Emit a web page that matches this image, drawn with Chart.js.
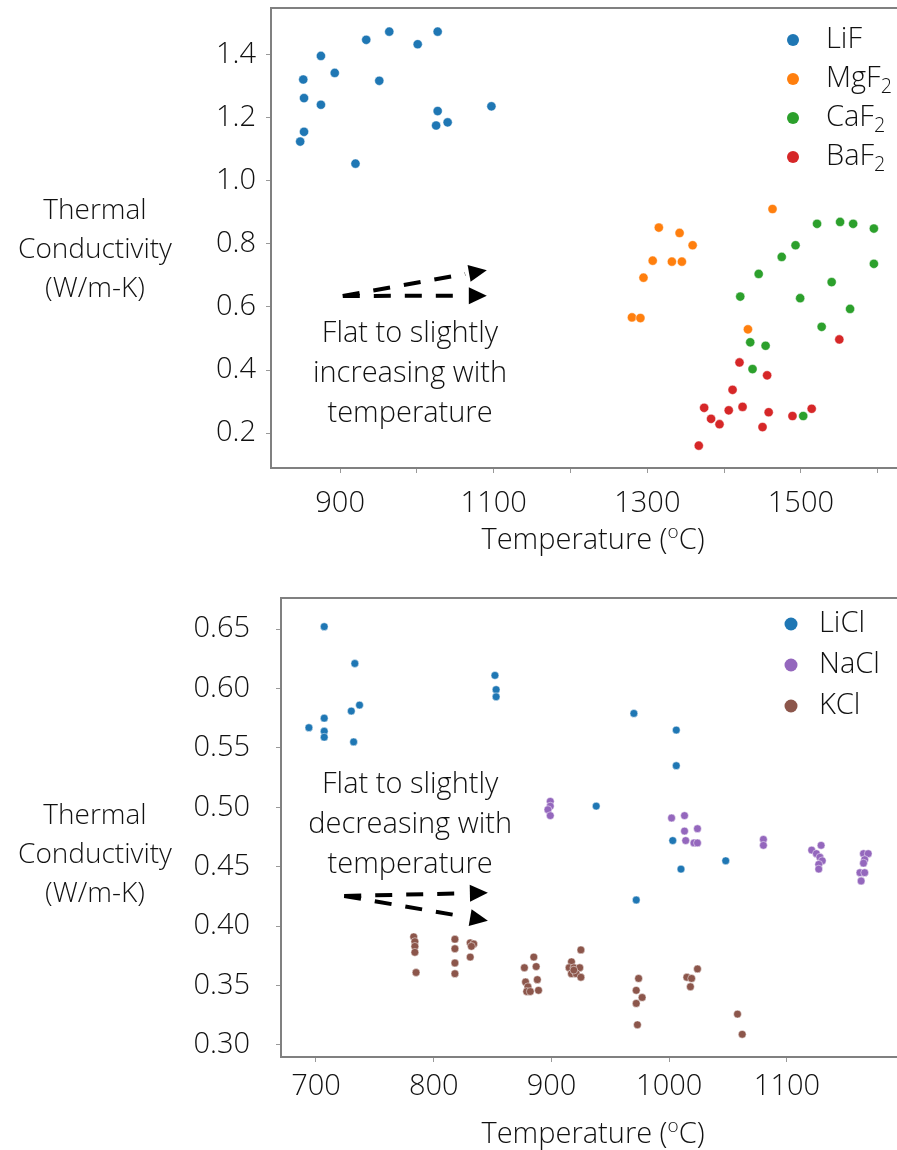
<!DOCTYPE html>
<html>
<head>
<meta charset="utf-8">
<script src="https://cdn.jsdelivr.net/npm/chart.js@4.4.0/dist/chart.umd.min.js"></script>
<style>
html, body { margin: 0; padding: 0; background: #fff; overflow: hidden; }
.caja { position: absolute; left: 0; width: 910px; height: 575px; }
</style>
</head>
<body>
<div class="caja" style="top:0"><canvas id="fluoruros"></canvas></div>
<div class="caja" style="top:575px"><canvas id="cloruros"></canvas></div>
<script>
// --- datos: grafico de fluoruros ---
const lifT = [848, 853, 852, 853, 875, 875, 893, 920, 934, 951, 964, 1001, 1027, 1027, 1025, 1040, 1097];
const lifK = [1.125, 1.156, 1.322, 1.263, 1.397, 1.242, 1.343, 1.055, 1.448, 1.318, 1.474, 1.434, 1.474, 1.222, 1.176, 1.186, 1.237];
const mgfT = [1463, 1315, 1342, 1359, 1307, 1332, 1345, 1295, 1280, 1291, 1431];
const mgfK = [0.911, 0.852, 0.835, 0.796, 0.747, 0.744, 0.744, 0.693, 0.567, 0.565, 0.529];
const cafT = [1521, 1551, 1568, 1595, 1493, 1475, 1595, 1445, 1540, 1421, 1499, 1564, 1527, 1434, 1454, 1437, 1503];
const cafK = [0.864, 0.870, 0.864, 0.849, 0.796, 0.759, 0.737, 0.705, 0.679, 0.633, 0.628, 0.594, 0.537, 0.488, 0.477, 0.403, 0.254];
const bafT = [1550, 1420, 1456, 1411, 1374, 1406, 1424, 1458, 1383, 1394, 1489, 1514, 1450, 1367];
const bafK = [0.497, 0.424, 0.383, 0.337, 0.280, 0.272, 0.283, 0.266, 0.245, 0.228, 0.254, 0.277, 0.219, 0.160];

const fluorurosNombres = ['LiF', 'MgF2', 'CaF2', 'BaF2'];
const fluorurosXTicks = [900, 1000, 1100, 1200, 1300, 1400, 1500, 1600];
const fluorurosXEtiquetas = [900, 1100, 1300, 1500];
const fluorurosYTicks = [0.2, 0.4, 0.6, 0.8, 1.0, 1.2, 1.4];
const fluorurosNota = ['Flat to slightly', 'increasing with', 'temperature'];

// --- datos: grafico de cloruros ---
const liclT = [707, 733, 852, 853, 853, 737, 730, 707, 694, 707, 707, 732, 970, 938, 1006, 1006, 1003, 1010, 1048, 972];
const liclK = [0.652, 0.621, 0.611, 0.599, 0.593, 0.586, 0.581, 0.575, 0.567, 0.564, 0.559, 0.555, 0.579, 0.501, 0.565, 0.535, 0.472, 0.448, 0.455, 0.422];
const naclT = [899, 899, 897, 899, 1002, 1013, 1024, 1013, 1014, 1021, 1024, 1080, 1080, 1121, 1129, 1125, 1128, 1130, 1127, 1127, 1165, 1169, 1166, 1165, 1162, 1166, 1163];
const naclK = [0.505, 0.501, 0.498, 0.493, 0.491, 0.493, 0.482, 0.480, 0.472, 0.470, 0.470, 0.473, 0.468, 0.464, 0.468, 0.461, 0.458, 0.455, 0.452, 0.448, 0.461, 0.461, 0.456, 0.453, 0.445, 0.445, 0.438];
const kclT = [783, 784, 784, 784, 785, 818, 818, 818, 818, 831, 834, 832, 831, 885, 877, 887, 878, 880, 888, 879, 882, 889, 925, 917, 915, 919, 924, 917, 921, 925, 919, 974, 972, 977, 972, 973, 1024, 1015, 1019, 1018, 1058, 1062];
const kclK = [0.391, 0.387, 0.383, 0.378, 0.361, 0.389, 0.381, 0.369, 0.360, 0.386, 0.385, 0.383, 0.374, 0.374, 0.365, 0.366, 0.353, 0.349, 0.355, 0.345, 0.345, 0.346, 0.380, 0.370, 0.365, 0.365, 0.365, 0.360, 0.360, 0.357, 0.363, 0.356, 0.346, 0.340, 0.335, 0.317, 0.364, 0.357, 0.356, 0.349, 0.326, 0.309];

const clorurosNombres = ['LiCl', 'NaCl', 'KCl'];
const clorurosXTicks = [700, 800, 900, 1000, 1100];
const clorurosYTicks = [0.30, 0.35, 0.40, 0.45, 0.50, 0.55, 0.60, 0.65];
const clorurosNota = ['Flat to slightly', 'decreasing with', 'temperature'];

const tituloY = ['Thermal', 'Conductivity', '(W/m-K)'];
const colores = ['#1f77b4', '#ff7f0e', '#2ca02c', '#d62728', '#9467bd', '#8c564b'];
const FUENTE = 'Open Sans';
const TAM = 29;
const TEXTO = '#111111';
const EJE = '#808080';

function puntos(t, k){
    return t.map((x, i) => ({ x: x, y: k[i] }));
}

// texto con los digitos como subindice (MgF2 -> MgF₂)
function textoQuimico(ctx, texto, x, y, size){
    const partes = texto.match(/\d+|\D+/g);
    partes.forEach(p => {
        if(/\d/.test(p)){
            ctx.font = `300 ${size * 0.68}px "${FUENTE}"`;
            ctx.fillText(p, x, y + size * 0.3);
        }else{
            ctx.font = `300 ${size}px "${FUENTE}"`;
            ctx.fillText(p, x, y);
        }
        x += ctx.measureText(p).width;
    });
}

function flecha(ctx, x0, y0, x1, y1){
    const ang = Math.atan2(y1 - y0, x1 - x0);
    const largo = 18, ancho = 8.5;
    const bx = x1 - largo * Math.cos(ang), by = y1 - largo * Math.sin(ang);
    ctx.setLineDash([17, 14]);
    ctx.lineWidth = 4;
    ctx.beginPath();
    ctx.moveTo(x0, y0);
    ctx.lineTo(bx - 4 * Math.cos(ang), by - 4 * Math.sin(ang));
    ctx.stroke();
    ctx.setLineDash([]);
    ctx.beginPath();
    ctx.moveTo(x1, y1);
    ctx.lineTo(bx - ancho * Math.sin(ang), by + ancho * Math.cos(ang));
    ctx.lineTo(bx + ancho * Math.sin(ang), by - ancho * Math.cos(ang));
    ctx.closePath();
    ctx.fill();
}

const adornos = {
    id: 'adornos',
    afterDraw(chart, args, o){
        const ctx = chart.ctx, a = chart.chartArea;
        const sx = chart.scales.x, sy = chart.scales.y;
        ctx.save();
        // borde superior
        ctx.strokeStyle = EJE;
        ctx.lineWidth = 2;
        ctx.beginPath();
        ctx.moveTo(a.left - 1, a.top);
        ctx.lineTo(a.right + 20, a.top);
        ctx.stroke();

        ctx.fillStyle = TEXTO;
        ctx.textBaseline = 'middle';
        ctx.textAlign = 'center';
        ctx.font = `300 28px "${FUENTE}"`;
        tituloY.forEach((t, i) => ctx.fillText(t, o.tituloYX, o.tituloYY + i * 39));

        // titulo x con la o en superindice
        ctx.textAlign = 'left';
        const p1 = 'Temperature (', p3 = 'C)';
        ctx.font = `300 ${TAM}px "${FUENTE}"`;
        const w1 = ctx.measureText(p1).width, w3 = ctx.measureText(p3).width;
        ctx.font = `300 19px "${FUENTE}"`;
        const w2 = ctx.measureText('o').width;
        let x = o.tituloXX - (w1 + w2 + w3) / 2;
        ctx.font = `300 ${TAM}px "${FUENTE}"`;
        ctx.fillText(p1, x, o.tituloXY);
        ctx.font = `300 19px "${FUENTE}"`;
        ctx.fillText('o', x + w1, o.tituloXY - 8);
        ctx.font = `300 ${TAM}px "${FUENTE}"`;
        ctx.fillText(p3, x + w1 + w2, o.tituloXY);

        // leyenda
        chart.data.datasets.forEach((d, i) => {
            const ly = o.leyenda.y + i * o.leyenda.paso;
            ctx.fillStyle = d.backgroundColor;
            ctx.beginPath();
            ctx.arc(o.leyenda.x, ly, o.leyenda.r, 0, Math.PI * 2);
            ctx.fill();
            ctx.fillStyle = TEXTO;
            textoQuimico(ctx, d.label, o.leyenda.textoX, ly, TAM);
        });

        // nota y flechas
        ctx.textAlign = 'center';
        ctx.font = `300 ${TAM}px "${FUENTE}"`;
        const nx = sx.getPixelForValue(o.nota.x), ny = sy.getPixelForValue(o.nota.y);
        o.nota.lineas.forEach((t, i) => ctx.fillText(t, nx, ny + i * 40));
        ctx.strokeStyle = '#000';
        ctx.fillStyle = '#000';
        o.flechas.forEach(f => {
            flecha(ctx, sx.getPixelForValue(f[0]), sy.getPixelForValue(f[1]),
                sx.getPixelForValue(f[2]), sy.getPixelForValue(f[3]));
        });
        ctx.restore();
    }
};

function escala(min, max, ticks, etiqueta, tam, pad){
    return {
        type: 'linear', min: min, max: max,
        afterBuildTicks: s => { s.ticks = ticks.map(v => ({ value: v })); },
        afterFit: s => {
            if(s.isHorizontal()) s.height = tam; else s.width = tam;
            s.paddingTop = 0; s.paddingBottom = 0; s.paddingLeft = 0; s.paddingRight = 0;
        },
        ticks: {
            callback: etiqueta, autoSkip: false, maxRotation: 0,
            color: TEXTO, padding: pad,
            font: { family: FUENTE, size: TAM, weight: '300' }
        },
        grid: { drawOnChartArea: false, drawTicks: true, tickLength: 5, color: '#999999', lineWidth: 1 },
        border: { display: true, color: EJE, width: 2 }
    };
}

function series(nombres, listas, colIdx, radio){
    return nombres.map((n, i) => ({
        label: n,
        data: puntos(listas[i][0], listas[i][1]),
        backgroundColor: colores[colIdx[i]],
        borderColor: 'rgba(255,255,255,0.8)',
        borderWidth: 0.6,
        pointRadius: radio,
        pointHoverRadius: radio,
        order: nombres.length - i
    }));
}

function graficar(){
    new Chart(document.getElementById('fluoruros'), {
        type: 'scatter',
        data: {
            datasets: series(fluorurosNombres,
                [[lifT, lifK], [mgfT, mgfK], [cafT, cafK], [bafT, bafK]], [0, 1, 2, 3], 4.6)
        },
        options: {
            responsive: true, maintainAspectRatio: false, animation: false,
            layout: { padding: { top: 8, right: 10, left: 0, bottom: 0 } },
            scales: {
                x: escala(810, 1629, fluorurosXTicks, v => fluorurosXEtiquetas.includes(v) ? String(v) : '', 107, 13),
                y: escala(0.089, 1.549, fluorurosYTicks, v => v.toFixed(1), 271, 10)
            },
            plugins: {
                legend: { display: false },
                tooltip: { enabled: false },
                adornos: {
                    tituloYX: 95, tituloYY: 211,
                    tituloXX: 593, tituloXY: 541,
                    leyenda: { x: 793, y: 40, paso: 39, r: 6, textoX: 826 },
                    nota: { x: 991, y: 0.514, lineas: fluorurosNota },
                    flechas: [[903.5, 0.635, 1091, 0.717], [903.5, 0.635, 1091, 0.636]]
                }
            }
        },
        plugins: [adornos]
    });

    new Chart(document.getElementById('cloruros'), {
        type: 'scatter',
        data: {
            datasets: series(clorurosNombres,
                [[liclT, liclK], [naclT, naclK], [kclT, kclK]], [0, 4, 5], 3.9)
        },
        options: {
            responsive: true, maintainAspectRatio: false, animation: false,
            layout: { padding: { top: 23, right: 10, left: 0, bottom: 0 } },
            scales: {
                x: escala(670.3, 1196, clorurosXTicks, v => String(v), 93, 7),
                y: escala(0.2899, 0.6761, clorurosYTicks, v => v.toFixed(2), 281, 26)
            },
            plugins: {
                legend: { display: false },
                tooltip: { enabled: false },
                adornos: {
                    tituloYX: 95, tituloYY: 241,
                    tituloXX: 593, tituloXY: 560,
                    leyenda: { x: 791, y: 49, paso: 41, r: 6.5, textoX: 819 },
                    nota: { x: 780, y: 0.519, lineas: clorurosNota },
                    flechas: [[724, 0.4254, 846, 0.428], [724, 0.4254, 846, 0.4046]]
                }
            }
        },
        plugins: [adornos]
    });
}

document.addEventListener('DOMContentLoaded', graficar);
</script>
</body>
</html>
